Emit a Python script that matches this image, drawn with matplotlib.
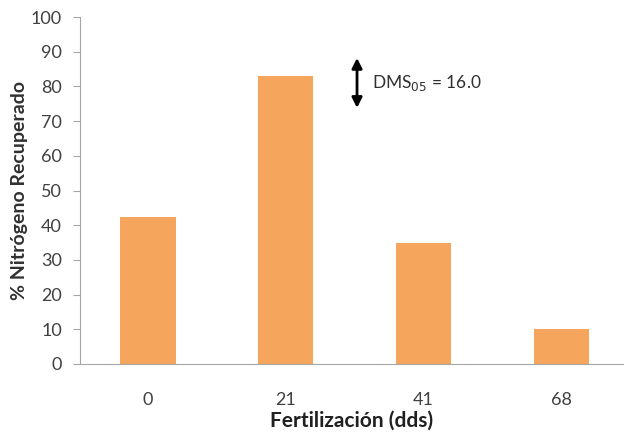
import matplotlib.pyplot as plt

# Data
categories = ["0", "21", "41", "68"]
recovered = [42.5, 83.0, 35.0, 10.0]
dms_value = 16.0
dms_low, dms_high = 73.0, 89.0

plt.rcParams['font.family'] = ['Lato', 'DejaVu Sans']

fig = plt.figure(figsize=(6.24, 4.32), dpi=100)
ax = fig.add_axes([80 / 624, 1 - 364 / 432, 1 - 80 / 624, 347 / 432])

x = range(len(categories))
ax.bar(x, recovered, width=0.40, color='#F6A65C', zorder=2)

ax.set_xlim(-0.494, 3.457)
ax.set_ylim(0, 100)
ax.set_yticks(range(0, 101, 10))
ax.set_xticks(list(x))
ax.set_xticklabels(categories)

for side in ['top', 'right']:
    ax.spines[side].set_visible(False)
for side in ['left', 'bottom']:
    ax.spines[side].set_color('#A6A6A6')

ax.tick_params(axis='y', colors='#A6A6A6', labelcolor='#404040', labelsize=13, length=5, pad=8)
ax.tick_params(axis='x', length=0, labelcolor='#404040', labelsize=13, pad=20)

ax.set_ylabel('% Nitrógeno Recuperado', fontsize=14, fontweight='bold', color='#303030')
ax.yaxis.set_label_coords(-0.096, 0.5)
ax.set_xlabel('Fertilización (dds)', fontsize=15, fontweight='bold', color='#202020', labelpad=2)

# Minimum significant difference marker
ax.annotate('', xy=(1.518, dms_low), xytext=(1.518, dms_high),
            arrowprops=dict(arrowstyle='<|-|>', color='black', lw=2, mutation_scale=15))
ax.text(1.63, (dms_low + dms_high) / 2, 'DMS$_{05}$ = %.1f' % dms_value,
        fontsize=12.5, color='#303030', va='center', ha='left')

fig.savefig('out.png', dpi=100)
